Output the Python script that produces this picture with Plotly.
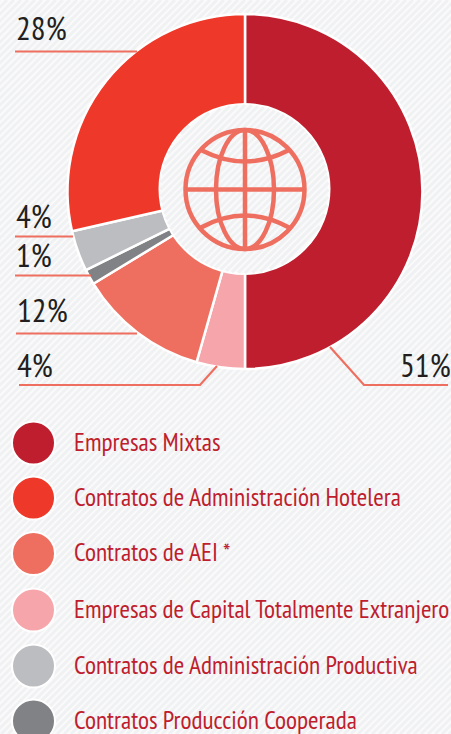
import math
import plotly.graph_objects as go

W, H = 451, 734

# Data
categories = ["Empresas Mixtas", "Contratos de Administración Hotelera", "Contratos de AEI *",
              "Empresas de Capital Totalmente Extranjero", "Contratos de Administración Productiva",
              "Contratos Producción Cooperada"]
colors = ["#BE1E2D", "#EE3829", "#EE6F60", "#F6A5AB", "#BCBDC0", "#808285"]
# shares as drawn and the labels printed in the picture
shares = [50.0, 28.6, 11.9, 4.4, 3.7, 1.4]
labels = ["51%", "28%", "12%", "4%", "4%", "1%"]
# clockwise draw order from 12 o'clock
order = [0, 3, 2, 5, 4, 1]

# Label placement (left x, centre y)
label_pos = {0: (397.5, 364.5), 1: (13.5, 27.5), 2: (15, 309.5), 3: (15, 364.5), 4: (13.5, 215.5), 5: (14, 254.5)}
leaders = {
    0: [(330, 347), (364, 385), (448, 385)],
    1: [(15, 51.5), (137, 51.5)],
    2: [(16, 333.5), (137, 333.5)],
    3: [(19, 385), (200, 385), (217, 366)],
    4: [(15, 236.5), (73, 236.5)],
    5: [(15, 275.5), (91, 275.5)],
}
legend_y = [443, 498, 553.5, 610, 666, 721]

FONT = "'PT Sans Narrow', 'Archivo Narrow', 'Liberation Sans', sans-serif"
BG, STRIPE = "#FAFAFB", "#F0F1F3"
STEP, STRIPE_W = 7, 3
cx, cy, R = 245, 191.5, 177.5
hx, hy, hr = 244.5, 189, 85


def stripes_page():
    return " ".join(f"M{c},{H} L{c + H},0" for c in range(-H, W + H, STEP))


def stripes_circle(x0, y0, rad):
    # chords of the 45-degree stripes that fall inside a circle
    out = []
    for c in range(-H, W + H, STEP):
        d = (x0 + y0 - (c + H)) / math.sqrt(2)
        if abs(d) >= rad:
            continue
        h = math.sqrt(rad * rad - d * d) / math.sqrt(2)
        fx, fy = x0 - d / math.sqrt(2), y0 - d / math.sqrt(2)
        out.append(f"M{fx - h:.1f},{fy + h:.1f} L{fx + h:.1f},{fy - h:.1f}")
    return " ".join(out)


fig = go.Figure()

shapes = [dict(type="path", xref="x", yref="y", path=stripes_page(), line=dict(color=STRIPE, width=STRIPE_W),
               layer="below")]

# Doughnut
dx0, dx1 = (cx - R) / W, (cx + R) / W
dy0, dy1 = 1 - (cy + R) / H, 1 - (cy - R) / H
fig.add_trace(go.Pie(values=[shares[i] for i in order], labels=[categories[i] for i in order],
                     marker=dict(colors=[colors[i] for i in order], line=dict(color="#FFFFFF", width=2.5)),
                     hole=0.45, sort=False, direction="clockwise", rotation=0, textinfo="none",
                     domain=dict(x=[dx0, dx1], y=[dy0, dy1]), showlegend=False))

# Slightly off-centre hole, with the page hatch continuing inside
shapes.append(dict(type="circle", xref="x", yref="y", x0=hx - hr, x1=hx + hr, y0=hy - hr, y1=hy + hr,
                   fillcolor=BG, line=dict(color="#FFFFFF", width=2), layer="above"))
shapes.append(dict(type="path", xref="x", yref="y", path=stripes_circle(hx, hy, hr - 1),
                   line=dict(color=STRIPE, width=STRIPE_W), layer="above"))

# Globe
gx, gy, grx, gry = 245, 189.5, 59.5, 59.5
stroke = dict(color="#EE6F60", width=4.5)
shapes.append(dict(type="circle", xref="x", yref="y", x0=gx - grx, x1=gx + grx, y0=gy - gry, y1=gy + gry,
                   line=stroke, layer="above"))
shapes.append(dict(type="circle", xref="x", yref="y", x0=gx - 29, x1=gx + 29, y0=gy - gry, y1=gy + gry,
                   line=stroke, layer="above"))
for path in [f"M{gx},{gy - gry} L{gx},{gy + gry}",
             f"M{gx - grx},{gy} L{gx + grx},{gy}",
             f"M{gx - 43},{gy - 39} Q{gx},{gy - 17} {gx + 43},{gy - 39}",
             f"M{gx - 44},{gy + 38} Q{gx},{gy + 14} {gx + 44},{gy + 38}"]:
    shapes.append(dict(type="path", xref="x", yref="y", path=path, line=stroke, layer="above"))

# Leaders
for pts in leaders.values():
    path = "M" + " L".join(f"{x},{y}" for x, y in pts)
    shapes.append(dict(type="path", xref="x", yref="y", path=path, line=dict(color="#EE6F60", width=2.2),
                       layer="above"))

# Legend
fig.add_trace(go.Scatter(x=[33.5] * 6, y=legend_y, mode="markers",
                         marker=dict(size=43, color=colors, line=dict(color="#FFFFFF", width=2)),
                         hoverinfo="skip", showlegend=False))

annotations = []
for name, y in zip(categories, legend_y):
    annotations.append(dict(x=71.5, y=y - 2, xref="x", yref="y", text=name, showarrow=False, xanchor="left",
                            yanchor="middle", font=dict(family=FONT, size=25.4, color="#BE1E2D")))
for i, (x, y) in label_pos.items():
    annotations.append(dict(x=x, y=y, xref="x", yref="y", text=labels[i], showarrow=False, xanchor="left",
                            yanchor="middle", font=dict(family=FONT, size=33, color="#231F20")))

fig.update_layout(width=W, height=H, margin=dict(l=0, r=0, t=0, b=0), paper_bgcolor=BG,
                  plot_bgcolor="rgba(0,0,0,0)", shapes=shapes, annotations=annotations, showlegend=False,
                  xaxis=dict(range=[0, W], visible=False, fixedrange=True),
                  yaxis=dict(range=[H, 0], visible=False, fixedrange=True))
fig.write_html("out.html", config=dict(displayModeBar=False),
               post_script="document.body.style.margin='0';document.documentElement.style.overflow='hidden';")
